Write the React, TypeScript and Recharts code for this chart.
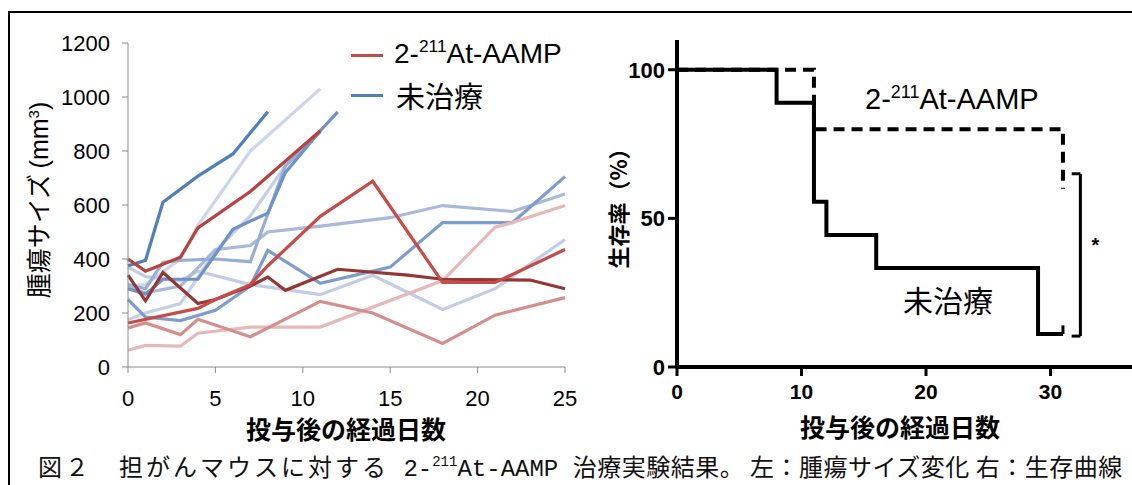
import React from "react";
import { LineChart, Line, XAxis, YAxis, ReferenceLine, ReferenceDot } from "recharts";

// left panel: tumour size per mouse, sampled on these days
const days = [0, 1, 2, 3, 4, 5, 6, 7, 8, 9, 11, 12, 14, 15, 16, 18, 21, 22, 23, 25];
const _ = null;

// 2-211At-AAMP group (mm3)
const treated1 = [400, 355, _, 407, 515, _, _, 650, _, _, 875, _, _, _, _, _, _, _, _, _];
const treated2 = [163, _, _, _, 217, 250, _, 305, 375, _, 558, _, 688, _, _, 313, 313, _, _, 435];
const treated3 = [340, 245, 350, _, 235, 250, _, 300, 333, 284, _, 362, _, _, 340, 325, _, _, 322, 290];
const treated4 = [145, 163, _, 120, 177, _, _, 112, _, _, 243, _, 200, _, _, 87, 192, _, _, 257];
const treated5 = [62, 80, _, 77, 125, _, _, 148, _, _, 148, _, _, _, _, 320, 518, 535, _, 598];

// untreated group (mm3)
const untreated1 = [375, 395, 610, _, 707, _, 789, _, 945, _, _, _, _, _, _, _, _, _, _, _];
const untreated2 = [300, 305, _, 400, 525, _, _, 800, _, _, 1030, _, _, _, _, _, _, _, _, _];
const untreated3 = [295, 275, _, 300, _, 435, _, 450, 500, _, 522, _, _, 553, _, 598, _, 576, _, 641];
const untreated4 = [250, 185, _, 172, _, 210, _, 300, 432, _, 310, _, _, 370, _, 535, _, 535, _, 705];
const untreated5 = [370, 335, _, 320, 355, _, _, 305, _, _, 268, _, 340, _, _, 213, 290, _, _, 472];
const untreated6 = [290, 270, 325, _, 325, _, 510, _, 570, 720, 875, 945, _, _, _, _, _, _, _, _];
const untreated7 = [175, 200, _, 235, _, 430, _, 560, _, 745, 870, _, _, _, _, _, _, _, _, _];
const untreated8 = [305, 290, 388, 395, _, 400, _, 390, _, 745, 870, _, _, _, _, _, _, _, _, _];

const sizeTicks = [0, 200, 400, 600, 800, 1000, 1200];
const dayTicks = [0, 5, 10, 15, 20, 25];

// right panel: survival (%)
const survDaysUntreated = [0, 8, 11, 12, 16, 29, 31];
const survUntreated = [100, 88.9, 55.6, 44.4, 33.3, 11.1, 11.1];
const survDaysTreated = [0, 11, 31];
const survTreated = [100, 80, 60];
const survTicks = [0, 50, 100];
const survDayTicks = [0, 10, 20, 30];

const series = [
  { key: "u7", vals: untreated7, color: "#c3d0e6" },
  { key: "u2", vals: untreated2, color: "#cbd6ea" },
  { key: "u5", vals: untreated5, color: "#c0cde4" },
  { key: "u3", vals: untreated3, color: "#a7badc" },
  { key: "u8", vals: untreated8, color: "#97afd7" },
  { key: "u4", vals: untreated4, color: "#7d9ccf" },
  { key: "u6", vals: untreated6, color: "#6f92c9" },
  { key: "u1", vals: untreated1, color: "#4f7fbd" },
  { key: "t5", vals: treated5, color: "#e6b9b8" },
  { key: "t4", vals: treated4, color: "#d58e8c" },
  { key: "t3", vals: treated3, color: "#953735" },
  { key: "t2", vals: treated2, color: "#c74b47" },
  { key: "t1", vals: treated1, color: "#b8423f" },
];

const rows = days.map((day, i) => {
  const row: Record<string, number | null> = { day };
  series.forEach((s) => (row[s.key] = s.vals[i]));
  return row;
});

const untreatedRows = survDaysUntreated.map((day, i) => ({ day, s: survUntreated[i] }));
const treatedRows = survDaysTreated.map((day, i) => ({ day, s: survTreated[i] }));

const sans = "'Liberation Sans', Arial, 'Noto Sans CJK JP', sans-serif";
const jp = "'Noto Sans CJK JP', 'Liberation Sans', sans-serif";

const Compound = ({ size }: { size: number }) => (
  <span style={{ fontFamily: sans, fontSize: size }}>
    2-<sup style={{ fontSize: size * 0.62, verticalAlign: "0.62em", lineHeight: 0 }}>211</sup>At-AAMP
  </span>
);

export default function App() {
  return (
    <div style={{ position: "absolute", left: 0, top: 0, width: 1132, height: 485, overflow: "hidden", background: "#fff" }}>
      <div style={{ position: "absolute", left: 8, top: 11, width: 1200, height: 520, border: "2px solid #000" }} />

      {/* left: tumour size */}
      <div style={{ position: "absolute", left: 0, top: 0 }}>
        <LineChart width={600} height={450} data={rows} margin={{ top: 43, right: 35, left: 0, bottom: 53 }}>
          <XAxis
            dataKey="day"
            type="number"
            domain={[0, 25]}
            ticks={dayTicks}
            stroke="#8a8a8a"
            tickSize={6}
            tickMargin={17}
            tick={{ fill: "#000", fontSize: 22, fontFamily: sans }}
          />
          <YAxis
            type="number"
            domain={[0, 1200]}
            ticks={sizeTicks}
            width={128}
            stroke="#8a8a8a"
            tickSize={6}
            tickMargin={12}
            tick={{ fill: "#000", fontSize: 22, fontFamily: sans }}
          />
          {series.map((s) => (
            <Line
              key={s.key}
              dataKey={s.key}
              stroke={s.color}
              strokeWidth={3.2}
              dot={false}
              connectNulls
              isAnimationActive={false}
            />
          ))}
        </LineChart>
      </div>

      {/* legend */}
      <div style={{ position: "absolute", left: 351, top: 54, width: 32, height: 3, background: "#c0504d" }} />
      <div style={{ position: "absolute", left: 394, top: 38, lineHeight: "32px", whiteSpace: "nowrap" }}>
        <Compound size={28} />
      </div>
      <div style={{ position: "absolute", left: 351, top: 94, width: 32, height: 3, background: "#4f81bd" }} />
      <div style={{ position: "absolute", left: 396, top: 79, lineHeight: "32px", fontSize: 29, fontFamily: jp }}>未治療</div>

      <div
        style={{
          position: "absolute", left: 37, top: 200, transform: "translate(-50%, -50%) rotate(-90deg)",
          whiteSpace: "nowrap", fontSize: 25, fontFamily: jp,
        }}
      >
        腫瘍サイズ <span style={{ fontFamily: sans }}>(mm<sup style={{ fontSize: 15, verticalAlign: "0.6em", lineHeight: 0 }}>3</sup>)</span>
      </div>
      <div style={{ position: "absolute", left: 146, width: 400, top: 412, lineHeight: "32px", textAlign: "center", fontSize: 25, fontWeight: "bold", fontFamily: jp }}>
        投与後の経過日数
      </div>

      {/* right: survival */}
      <div style={{ position: "absolute", left: 590, top: 0 }}>
        <LineChart width={585} height={450} margin={{ top: 40, right: 0, left: 0, bottom: 53 }}>
          <XAxis
            dataKey="day"
            type="number"
            domain={[0, 40]}
            ticks={survDayTicks}
            allowDuplicatedCategory={false}
            axisLine={{ stroke: "#000", strokeWidth: 4 }}
            tickLine={{ stroke: "#000", strokeWidth: 3 }}
            tickSize={9}
            tickMargin={8}
            tick={{ fill: "#000", fontSize: 21, fontWeight: "bold", fontFamily: sans }}
          />
          <YAxis
            type="number"
            domain={[0, 110]}
            ticks={survTicks}
            width={87}
            axisLine={{ stroke: "#000", strokeWidth: 4 }}
            tickLine={{ stroke: "#000", strokeWidth: 3 }}
            tickSize={9}
            tickMargin={3}
            tick={{ fill: "#000", fontSize: 22, fontWeight: "bold", fontFamily: sans }}
          />
          <Line
            data={treatedRows}
            dataKey="s"
            type="stepAfter"
            stroke="#000"
            strokeWidth={4}
            strokeDasharray="11 7"
            dot={false}
            isAnimationActive={false}
          />
          <Line
            data={untreatedRows}
            dataKey="s"
            type="stepAfter"
            stroke="#000"
            strokeWidth={4}
            dot={false}
            isAnimationActive={false}
          />
          <ReferenceLine segment={[{ x: 31, y: 11.1 }, { x: 31, y: 14 }]} stroke="#000" strokeWidth={3} />
          <ReferenceLine segment={[{ x: 32.4, y: 10.4 }, { x: 32.4, y: 65 }]} stroke="#000" strokeWidth={3} />
          <ReferenceLine segment={[{ x: 31.7, y: 65 }, { x: 32.4, y: 65 }]} stroke="#000" strokeWidth={3} />
          <ReferenceLine segment={[{ x: 31.7, y: 10.4 }, { x: 32.4, y: 10.4 }]} stroke="#000" strokeWidth={3} />
          <ReferenceDot
            x={33.6}
            y={41}
            r={0}
            label={{ value: "*", position: "center", fontSize: 20, fontWeight: "bold", fill: "#000", fontFamily: sans }}
          />
        </LineChart>
      </div>

      <div style={{ position: "absolute", left: 865, top: 83, lineHeight: "32px", whiteSpace: "nowrap" }}>
        <Compound size={29} />
      </div>
      <div style={{ position: "absolute", left: 903, top: 283, lineHeight: "32px", fontSize: 30, fontFamily: jp }}>未治療</div>

      <div
        style={{
          position: "absolute", left: 617, top: 203, transform: "translate(-50%, -50%) rotate(-90deg)",
          whiteSpace: "nowrap", fontSize: 22, fontWeight: "bold", fontFamily: jp,
        }}
      >
        生存率（%）
      </div>
      <div style={{ position: "absolute", left: 700, width: 400, top: 410, lineHeight: "32px", textAlign: "center", fontSize: 25, fontWeight: "bold", fontFamily: jp }}>
        投与後の経過日数
      </div>

      {/* caption */}
      <div
        style={{
          position: "absolute", left: 38, top: 450, lineHeight: "32px", whiteSpace: "nowrap",
          fontSize: 24, letterSpacing: 3, fontFamily: "'Noto Sans CJK JP', serif", fontWeight: "normal", color: "#111",
        }}
      >
        図２　担がんマウスに対する
        <span style={{ fontFamily: "'Liberation Mono', monospace", letterSpacing: 0 }}>
          {" "}2-<sup style={{ fontSize: 14, verticalAlign: "0.7em", lineHeight: 0 }}>211</sup>At-AAMP{" "}
        </span>
        <span style={{ letterSpacing: 0.5 }}>治療実験結果。 左：腫瘍サイズ変化 右：生存曲線</span>
      </div>
    </div>
  );
}
